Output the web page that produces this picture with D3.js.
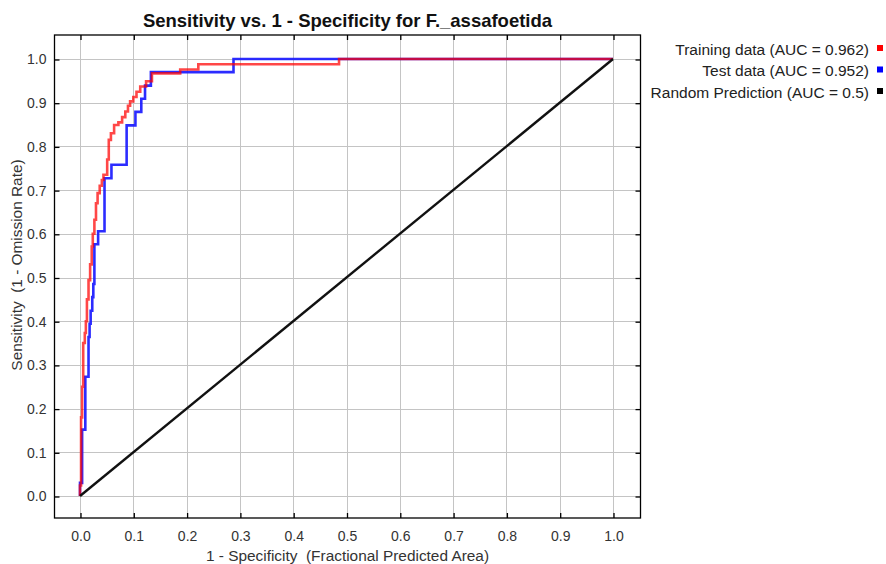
<!DOCTYPE html>
<html>
<head>
<meta charset="utf-8">
<script src="https://cdn.jsdelivr.net/npm/d3@7"></script>
<style>
  html, body { margin: 0; padding: 0; background: #fff; }
  svg { display: block; }
  text { font-family: "Liberation Sans", Arial, sans-serif; white-space: pre; }
</style>
</head>
<body>
<svg id="chart" width="886" height="564"></svg>
<script>
// ---- data ----
const title = "Sensitivity vs. 1 - Specificity for F._assafoetida";
const xTicks = [0, 0.1, 0.2, 0.3, 0.4, 0.5, 0.6, 0.7, 0.8, 0.9, 1.0];
const yTicks = [0, 0.1, 0.2, 0.3, 0.4, 0.5, 0.6, 0.7, 0.8, 0.9, 1.0];
const xLabel = "1 - Specificity  (Fractional Predicted Area)";
const yLabel = "Sensitivity  (1 - Omission Rate)";
const legendLabels = ["Training data (AUC = 0.962)", "Test data (AUC = 0.952)", "Random Prediction (AUC = 0.5)"];

// Training ROC (1 - specificity, sensitivity)
const trainX = [0, 0, 0.002, 0.002, 0.004, 0.004, 0.006, 0.006, 0.009, 0.009, 0.011, 0.011, 0.013, 0.013, 0.016, 0.016, 0.019, 0.019, 0.022, 0.022, 0.024, 0.024, 0.027, 0.027, 0.030, 0.030, 0.033, 0.033, 0.037, 0.037, 0.041, 0.041, 0.044, 0.044, 0.051, 0.051, 0.054, 0.054, 0.058, 0.058, 0.064, 0.064, 0.072, 0.072, 0.079, 0.079, 0.085, 0.085, 0.090, 0.090, 0.094, 0.094, 0.100, 0.100, 0.106, 0.106, 0.113, 0.113, 0.124, 0.124, 0.135, 0.135, 0.188, 0.188, 0.222, 0.222, 0.486, 0.486, 1.0];
const trainY = [0, 0.024, 0.024, 0.18, 0.18, 0.25, 0.25, 0.35, 0.35, 0.373, 0.373, 0.40, 0.40, 0.45, 0.45, 0.494, 0.494, 0.53, 0.53, 0.571, 0.571, 0.60, 0.60, 0.632, 0.632, 0.67, 0.67, 0.693, 0.693, 0.71, 0.71, 0.723, 0.723, 0.735, 0.735, 0.77, 0.77, 0.815, 0.815, 0.83, 0.83, 0.849, 0.849, 0.855, 0.855, 0.867, 0.867, 0.88, 0.88, 0.893, 0.893, 0.903, 0.903, 0.913, 0.913, 0.925, 0.925, 0.937, 0.937, 0.949, 0.949, 0.967, 0.967, 0.976, 0.976, 0.988, 0.988, 1.0, 1.0];

// Test ROC
const testX = [0, 0, 0.004, 0.004, 0.010, 0.010, 0.016, 0.016, 0.018, 0.018, 0.020, 0.020, 0.023, 0.023, 0.025, 0.025, 0.027, 0.027, 0.034, 0.034, 0.046, 0.046, 0.059, 0.059, 0.0875, 0.0875, 0.104, 0.104, 0.115, 0.115, 0.122, 0.122, 0.133, 0.133, 0.288, 0.288, 1.0];
const testY = [0, 0.030, 0.030, 0.152, 0.152, 0.273, 0.273, 0.364, 0.364, 0.394, 0.394, 0.424, 0.424, 0.455, 0.455, 0.485, 0.485, 0.576, 0.576, 0.606, 0.606, 0.727, 0.727, 0.758, 0.758, 0.848, 0.848, 0.879, 0.879, 0.909, 0.909, 0.939, 0.939, 0.970, 0.970, 1.0, 1.0];

// Random prediction
const randX = [0, 1];
const randY = [0, 1];

// ---- layout ----
const svg = d3.select("#chart");
const frame = { left: 54.5, right: 640.5, top: 35, bottom: 518 };

const x = d3.scaleLinear().domain([0, 1]).range([80, 613]);
const y = d3.scaleLinear().domain([0, 1]).range([496, 59]);

svg.append("rect").attr("x", 0).attr("y", 0).attr("width", 886).attr("height", 564).attr("fill", "#fff");

svg.append("clipPath").attr("id", "clip")
  .append("rect")
  .attr("x", frame.left).attr("y", frame.top)
  .attr("width", frame.right - frame.left).attr("height", frame.bottom - frame.top);

// grid
const grid = svg.append("g").attr("stroke", "#c4c4c4").attr("stroke-width", 1);
xTicks.forEach(t => {
  grid.append("line").attr("x1", Math.round(x(t)) + 0.5).attr("x2", Math.round(x(t)) + 0.5)
    .attr("y1", frame.top).attr("y2", frame.bottom);
});
yTicks.forEach(t => {
  grid.append("line").attr("y1", Math.round(y(t)) + 0.5).attr("y2", Math.round(y(t)) + 0.5)
    .attr("x1", frame.left).attr("x2", frame.right);
});

// axes (ticks inside the frame, all four sides)
const tickLen = 5;
const axB = d3.axisBottom(x).tickValues(xTicks).tickFormat(d3.format(".1f")).tickSize(tickLen);
const axL = d3.axisLeft(y).tickValues(yTicks).tickFormat(d3.format(".1f")).tickSize(tickLen);
const axT = d3.axisTop(x).tickValues(xTicks).tickFormat("").tickSize(tickLen);
const axR = d3.axisRight(y).tickValues(yTicks).tickFormat("").tickSize(tickLen);

function styleAxis(g) {
  g.select(".domain").remove();
  g.selectAll(".tick line").attr("stroke", "#000").attr("stroke-width", 1.3);
  g.selectAll(".tick text").attr("fill", "#333").style("font-size", "14px")
    .style("font-family", "'Liberation Sans', Arial, sans-serif");
}

const gB = svg.append("g").attr("transform", `translate(0.5,${frame.bottom})`).call(axB);
gB.selectAll(".tick line").attr("y2", -tickLen);
styleAxis(gB);
gB.selectAll(".tick text").attr("dy", "0.71em").attr("y", 13);

const gL = svg.append("g").attr("transform", `translate(${frame.left},0.5)`).call(axL);
gL.selectAll(".tick line").attr("x2", tickLen);
styleAxis(gL);
gL.selectAll(".tick text").attr("x", -8);

const gT = svg.append("g").attr("transform", `translate(0.5,${frame.top})`).call(axT);
gT.selectAll(".tick line").attr("y2", tickLen);
styleAxis(gT);

const gR = svg.append("g").attr("transform", `translate(${frame.right},0.5)`).call(axR);
gR.selectAll(".tick line").attr("x2", -tickLen);
styleAxis(gR);

// series
const line = d3.line().x(d => x(d[0])).y(d => y(d[1]));
const plot = svg.append("g").attr("clip-path", "url(#clip)");

plot.append("path").datum(d3.zip(testX, testY))
  .attr("d", line).attr("fill", "none").attr("stroke", "#1a1aff")
  .attr("stroke-width", 2.6).attr("stroke-opacity", 0.92);

plot.append("path").datum(d3.zip(trainX, trainY))
  .attr("d", line).attr("fill", "none").attr("stroke", "#ff0000")
  .attr("stroke-width", 2.6).attr("stroke-opacity", 0.72);

plot.append("path").datum(d3.zip(randX, randY))
  .attr("d", line).attr("fill", "none").attr("stroke", "#111")
  .attr("stroke-width", 2.4);

// frame
svg.append("rect")
  .attr("x", frame.left).attr("y", frame.top)
  .attr("width", frame.right - frame.left).attr("height", frame.bottom - frame.top)
  .attr("fill", "none").attr("stroke", "#000").attr("stroke-width", 1.3);

// title
svg.append("text")
  .attr("x", (frame.left + frame.right) / 2).attr("y", 27)
  .attr("text-anchor", "middle")
  .style("font-size", "18.5px").style("font-weight", "bold").attr("fill", "#111")
  .text(title);

// axis titles
svg.append("text")
  .attr("x", (frame.left + frame.right) / 2).attr("y", 561)
  .attr("text-anchor", "middle").style("font-size", "15.4px").attr("fill", "#333")
  .text(xLabel);

svg.append("text")
  .attr("transform", `translate(22,265) rotate(-90)`)
  .attr("text-anchor", "middle").style("font-size", "15.4px").attr("fill", "#333")
  .text(yLabel);

// legend
const legColors = ["#ff0000", "#0000ff", "#000000"];
const leg = svg.append("g");
legendLabels.forEach((lab, i) => {
  const cy = 49 + i * 21.5;
  leg.append("text").attr("x", 869).attr("y", cy + 5.5)
    .attr("text-anchor", "end").style("font-size", "15.5px").attr("fill", "#222").text(lab);
  leg.append("rect").attr("x", 877).attr("y", cy - 4).attr("width", 6).attr("height", 6)
    .attr("fill", legColors[i]);
});
</script>
</body>
</html>
